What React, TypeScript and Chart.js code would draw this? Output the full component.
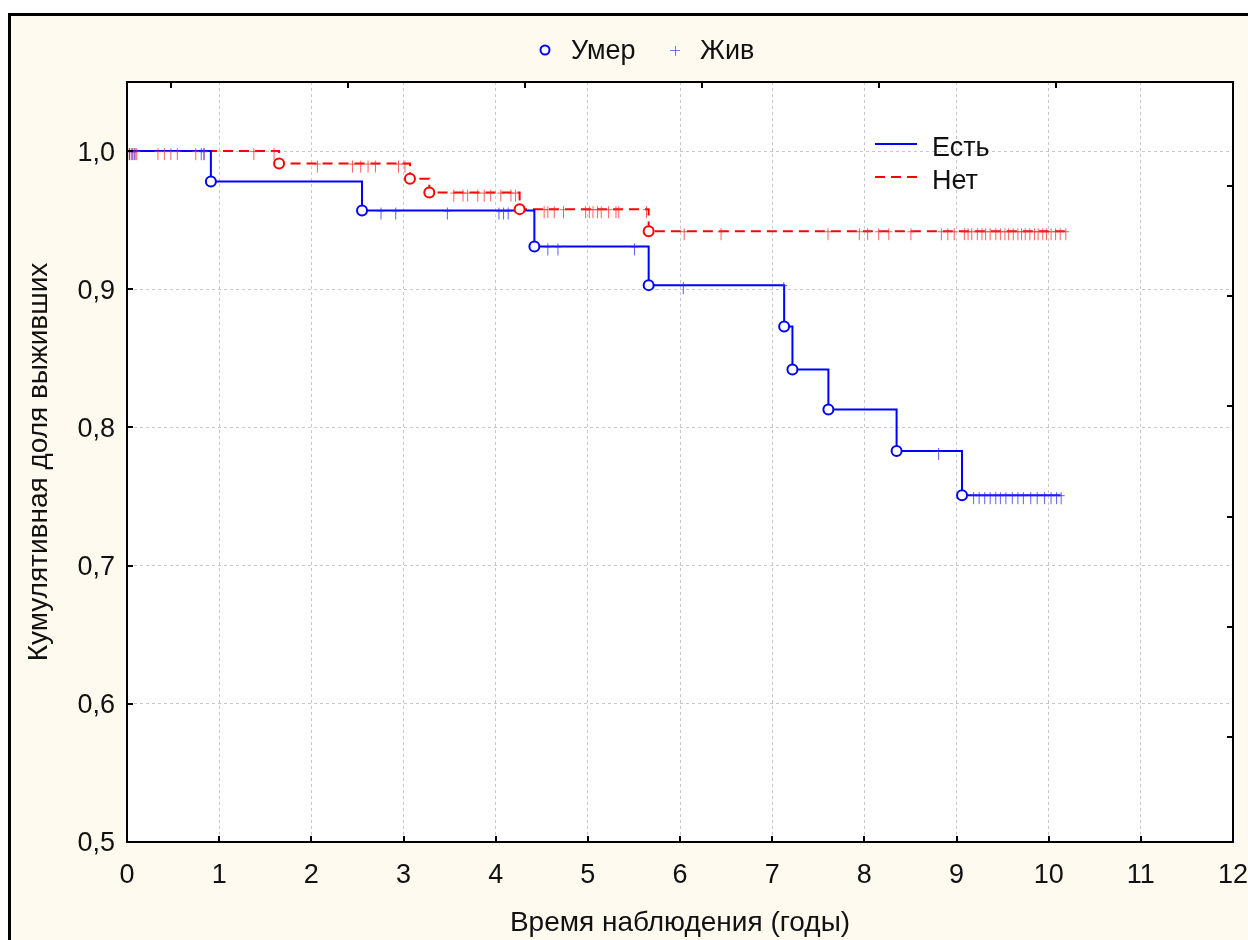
import React, { useEffect, useRef } from 'react';
import { Chart, registerables } from 'chart.js';

Chart.register(...registerables);

// Axis ticks
const X_TICKS = [0, 1, 2, 3, 4, 5, 6, 7, 8, 9, 10, 11, 12];
const Y_TICKS = [0.5, 0.6, 0.7, 0.8, 0.9, 1.0];
const TOP_TICKS = [0.48, 2.4, 4.32, 6.24, 8.16, 10.08];
const RIGHT_TICKS = [0.9746, 0.8949, 0.8152, 0.7355, 0.6558, 0.5761];

// Group "Есть": event times (years) and survival after each event
const YES_EVENT_T = [0.91, 2.55, 4.42, 5.66, 7.13, 7.22, 7.61, 8.35, 9.06];
const YES_EVENT_S = [0.978, 0.957, 0.931, 0.903, 0.873, 0.842, 0.813, 0.783, 0.751];
const YES_END_T = 10.13;
const YES_CENSOR_T = [
  0.02, 0.05, 0.08, 0.8, 0.83, 2.75, 2.91, 3.47, 4.03, 4.08, 4.13, 4.56, 4.67, 5.5,
  6.03, 7.12, 8.8, 9.18, 9.24, 9.3, 9.36, 9.42, 9.47, 9.53, 9.6, 9.66, 9.72, 9.8,
  9.87, 9.95, 10.02, 10.08, 10.13,
];

// Group "Нет"
const NO_EVENT_T = [1.65, 3.07, 3.28, 4.26, 5.66];
const NO_EVENT_S = [0.991, 0.98, 0.97, 0.958, 0.942];
const NO_END_T = 10.2;
const NO_CENSOR_T = [
  0.02, 0.04, 0.06, 0.08, 0.1, 0.33, 0.4, 0.47, 0.54, 0.74, 0.83, 1.37, 1.59,
  2.06, 2.44, 2.53, 2.61, 2.69, 2.94, 3.01,
  3.54, 3.64, 3.69, 3.8, 3.87, 3.94, 4.05, 4.16, 4.21,
  4.52, 4.56, 4.63, 4.73, 4.97, 5.01, 5.05, 5.1, 5.14, 5.22, 5.3, 5.33, 5.63,
  6.04, 6.44, 7.6, 7.94, 8.03, 8.15, 8.26, 8.5, 8.83, 8.9, 8.97, 9.08, 9.12, 9.16,
  9.22, 9.27, 9.31, 9.36, 9.42, 9.47, 9.52, 9.56, 9.61, 9.66, 9.7, 9.74, 9.79, 9.84,
  9.88, 9.93, 9.97, 10.02, 10.07, 10.12, 10.18,
];

const LABEL_YES = 'Есть';
const LABEL_NO = 'Нет';
const LABEL_DIED = 'Умер';
const LABEL_ALIVE = 'Жив';
const X_TITLE = 'Время наблюдения (годы)';
const Y_TITLE = 'Кумулятивная доля выживших';

const FONT = "'Liberation Sans', Arial, sans-serif";
const FONT_SIZE = 27;
const TITLE_SIZE = 28;
const BLUE = '#0000ff';
const RED = '#ff0000';
const CREAM = '#fffaf0';
const TEXT = '#111111';

// Kaplan–Meier step value at time t
function survivalAt(times: number[], values: number[], t: number) {
  let s = 1;
  for (let i = 0; i < times.length; i++) if (times[i] <= t) s = values[i];
  return s;
}

function stepCurve(times: number[], values: number[], end: number) {
  return [
    { x: 0, y: 1 },
    ...times.map((t, i) => ({ x: t, y: values[i] })),
    { x: end, y: values[values.length - 1] },
  ];
}

function censorPoints(censor: number[], times: number[], values: number[]) {
  return censor.map((t) => ({ x: t, y: survivalAt(times, values, t) }));
}

// Small tick-shaped glyph for censored observations
function censorGlyph(color: string) {
  const c = document.createElement('canvas');
  c.width = 10;
  c.height = 22;
  const g = c.getContext('2d')!;
  g.strokeStyle = color;
  g.lineWidth = 1;
  g.beginPath();
  g.moveTo(5.5, 8);
  g.lineTo(5.5, 20);
  g.moveTo(2, 11.5);
  g.lineTo(9, 11.5);
  g.stroke();
  return c;
}

const decorPlugin = {
  id: 'kmDecor',
  beforeDraw(chart: any) {
    const { ctx, chartArea: a } = chart;
    ctx.save();
    ctx.fillStyle = CREAM;
    ctx.fillRect(0, 0, chart.width, chart.height);
    ctx.fillStyle = '#ffffff';
    ctx.fillRect(a.left, a.top, a.right - a.left, a.bottom - a.top);
    ctx.restore();
  },
  afterDraw(chart: any) {
    const { ctx, chartArea: a, scales } = chart;
    ctx.save();
    // inward tick marks on all four sides
    ctx.strokeStyle = '#000';
    ctx.lineWidth = 2;
    const len = 6;
    ctx.beginPath();
    scales.x.ticks.forEach((t: any) => {
      const px = Math.round(scales.x.getPixelForValue(t.value));
      ctx.moveTo(px, a.bottom);
      ctx.lineTo(px, a.bottom - len);
    });
    scales.x2.ticks.forEach((t: any) => {
      const px = Math.round(scales.x2.getPixelForValue(t.value));
      ctx.moveTo(px, a.top);
      ctx.lineTo(px, a.top + len);
    });
    scales.y.ticks.forEach((t: any) => {
      const py = Math.round(scales.y.getPixelForValue(t.value));
      ctx.moveTo(a.left, py);
      ctx.lineTo(a.left + len, py);
    });
    scales.y2.ticks.forEach((t: any) => {
      const py = Math.round(scales.y2.getPixelForValue(t.value));
      ctx.moveTo(a.right, py);
      ctx.lineTo(a.right - len, py);
    });
    ctx.stroke();

    ctx.font = `${FONT_SIZE}px ${FONT}`;
    ctx.fillStyle = TEXT;
    ctx.textBaseline = 'middle';
    ctx.textAlign = 'left';

    // top legend: event / censored markers
    const ly = 35;
    ctx.beginPath();
    ctx.arc(534, ly - 1, 4.5, 0, Math.PI * 2);
    ctx.fillStyle = '#ffffff';
    ctx.fill();
    ctx.strokeStyle = BLUE;
    ctx.lineWidth = 2;
    ctx.stroke();
    ctx.fillStyle = TEXT;
    ctx.fillText(LABEL_DIED, 560, ly + 1);

    ctx.strokeStyle = 'rgba(60,60,255,0.7)';
    ctx.lineWidth = 1;
    ctx.beginPath();
    ctx.moveTo(659, ly - 0.5);
    ctx.lineTo(669, ly - 0.5);
    ctx.moveTo(664.5, ly - 5);
    ctx.lineTo(664.5, ly + 5);
    ctx.stroke();
    ctx.fillText(LABEL_ALIVE, 689, ly + 1);

    // inner legend: line styles of the two groups
    const x0 = a.left + 748;
    const x1 = a.left + 790;
    const tx = a.left + 805;
    ctx.lineWidth = 2;
    ctx.strokeStyle = BLUE;
    ctx.setLineDash([]);
    ctx.beginPath();
    ctx.moveTo(x0, a.top + 62);
    ctx.lineTo(x1, a.top + 62);
    ctx.stroke();
    ctx.fillText(LABEL_YES, tx, a.top + 67);

    ctx.strokeStyle = RED;
    ctx.setLineDash([10, 6]);
    ctx.beginPath();
    ctx.moveTo(x0, a.top + 95);
    ctx.lineTo(x1, a.top + 95);
    ctx.stroke();
    ctx.setLineDash([]);
    ctx.fillText(LABEL_NO, tx, a.top + 100);
    ctx.restore();
  },
};

function fixBox(size: { w?: number; h?: number }) {
  return (scale: any) => {
    if (size.w !== undefined) scale.width = size.w;
    if (size.h !== undefined) scale.height = size.h;
    scale.paddingLeft = 0;
    scale.paddingRight = 0;
    scale.paddingTop = 0;
    scale.paddingBottom = 0;
  };
}

function setTicks(values: number[]) {
  return (scale: any) => {
    scale.ticks = values.map((v) => ({ value: v }));
  };
}

export default function App() {
  const ref = useRef<HTMLCanvasElement | null>(null);

  useEffect(() => {
    const canvas = ref.current;
    if (!canvas) return;
    const blueMark = censorGlyph('rgba(40,40,255,0.75)');
    const redMark = censorGlyph('rgba(255,40,40,0.75)');
    const font = { family: FONT, size: FONT_SIZE };
    const titleFont = { family: FONT, size: TITLE_SIZE };
    const gridCommon = {
      color: '#c8c8c8',
      lineWidth: 1,
      drawTicks: false,
    };

    const chart = new Chart(canvas, {
      type: 'line',
      data: {
        datasets: [
          {
            label: LABEL_YES + ' ' + LABEL_DIED,
            data: YES_EVENT_T.map((t, i) => ({ x: t, y: YES_EVENT_S[i] })),
            showLine: false,
            pointStyle: 'circle',
            pointRadius: 5,
            pointBorderWidth: 2,
            pointBorderColor: BLUE,
            pointBackgroundColor: '#ffffff',
            order: 0,
          },
          {
            label: LABEL_NO + ' ' + LABEL_DIED,
            data: NO_EVENT_T.map((t, i) => ({ x: t, y: NO_EVENT_S[i] })),
            showLine: false,
            pointStyle: 'circle',
            pointRadius: 5,
            pointBorderWidth: 2,
            pointBorderColor: RED,
            pointBackgroundColor: '#ffffff',
            order: 0,
          },
          {
            label: LABEL_YES + ' ' + LABEL_ALIVE,
            data: censorPoints(YES_CENSOR_T, YES_EVENT_T, YES_EVENT_S),
            showLine: false,
            pointStyle: blueMark,
            order: 1,
          },
          {
            label: LABEL_NO + ' ' + LABEL_ALIVE,
            data: censorPoints(NO_CENSOR_T, NO_EVENT_T, NO_EVENT_S),
            showLine: false,
            pointStyle: redMark,
            order: 1,
          },
          {
            label: LABEL_YES,
            data: stepCurve(YES_EVENT_T, YES_EVENT_S, YES_END_T),
            stepped: true,
            borderColor: BLUE,
            borderWidth: 2,
            pointRadius: 0,
            fill: false,
            order: 2,
          },
          {
            label: LABEL_NO,
            data: stepCurve(NO_EVENT_T, NO_EVENT_S, NO_END_T),
            stepped: true,
            borderColor: RED,
            borderWidth: 2,
            borderDash: [10, 6],
            pointRadius: 0,
            fill: false,
            order: 2,
          },
        ],
      },
      options: {
        animation: false,
        responsive: false,
        events: [],
        layout: { padding: 0 },
        plugins: {
          legend: { display: false },
          tooltip: { enabled: false },
        },
        scales: {
          x: {
            type: 'linear',
            position: 'bottom',
            min: 0,
            max: 12,
            afterBuildTicks: setTicks(X_TICKS),
            afterFit: fixBox({ h: 98 }),
            grid: gridCommon,
            border: { display: true, color: '#000', width: 2, dash: [3, 3] },
            ticks: {
              font,
              color: TEXT,
              padding: 17,
              maxRotation: 0,
              autoSkip: false,
              callback: (v: any) => String(v),
            },
            title: {
              display: true,
              text: X_TITLE,
              font: titleFont,
              color: TEXT,
              padding: { top: 0, bottom: 0 },
            },
          },
          x2: {
            type: 'linear',
            position: 'top',
            min: 0,
            max: 12,
            afterBuildTicks: setTicks(TOP_TICKS),
            afterFit: fixBox({ h: 66 }),
            grid: { display: false, drawTicks: false },
            border: { display: true, color: '#000', width: 2 },
            ticks: { display: false },
          },
          y: {
            type: 'linear',
            position: 'left',
            min: 0.5,
            max: 1.05,
            afterBuildTicks: setTicks(Y_TICKS),
            afterFit: fixBox({ w: 116 }),
            grid: gridCommon,
            border: { display: true, color: '#000', width: 2, dash: [3, 3] },
            ticks: {
              font,
              color: TEXT,
              padding: 12,
              labelOffset: 2,
              autoSkip: false,
              callback: (v: any) => Number(v).toFixed(1).replace('.', ','),
            },
            title: {
              display: true,
              text: Y_TITLE,
              font: titleFont,
              color: TEXT,
              padding: { top: 11, bottom: 0 },
            },
          },
          y2: {
            type: 'linear',
            position: 'right',
            min: 0.5,
            max: 1.05,
            afterBuildTicks: setTicks(RIGHT_TICKS),
            afterFit: fixBox({ w: 15 }),
            grid: { display: false, drawTicks: false },
            border: { display: true, color: '#000', width: 2 },
            ticks: { display: false },
          },
        },
      } as any,
      plugins: [decorPlugin],
    });
    return () => chart.destroy();
  }, []);

  return (
    <div
      style={{
        position: 'fixed',
        left: 8,
        top: 13,
        width: 1240,
        height: 927,
        boxSizing: 'border-box',
        borderLeft: '3px solid #000',
        borderTop: '3px solid #000',
        background: CREAM,
        overflow: 'hidden',
      }}
    >
      <canvas ref={ref} width={1237} height={924} style={{ display: 'block', width: 1237, height: 924 }} />
    </div>
  );
}
